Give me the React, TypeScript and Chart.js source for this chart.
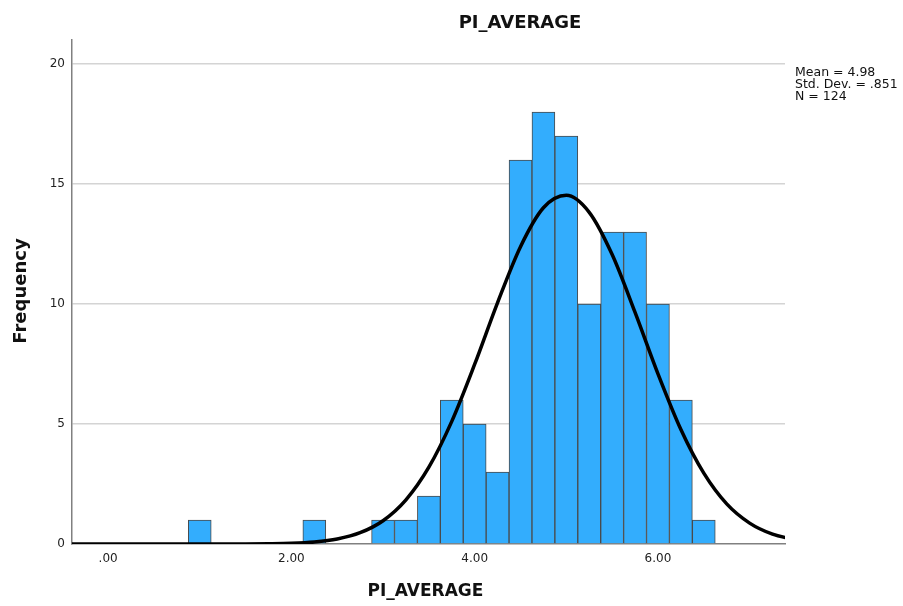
import React, { useEffect, useRef } from "react";
import { Chart, registerables } from "chart.js";

Chart.register(...registerables);

// Histogram bins (bin centers, width 0.25) and frequencies
const binCenters = [1.0, 2.25, 3.0, 3.25, 3.5, 3.75, 4.0, 4.25, 4.5, 4.75, 5.0, 5.25, 5.5, 5.75, 6.0, 6.25, 6.5];
const frequencies = [1, 1, 1, 1, 2, 6, 5, 3, 16, 18, 17, 10, 13, 13, 10, 6, 1];

// Normal curve
const curveX = [-0.5, 0, 0.5, 1.0, 1.5, 1.75, 2.0, 2.25, 2.5, 2.75, 3.0, 3.25, 3.5, 3.75, 4.0, 4.25, 4.5, 4.75, 5.0, 5.25, 5.5, 5.75, 6.0, 6.25, 6.5, 6.75, 7.0, 7.25, 7.5];
const curveY = [0, 0, 0, 0, 0.002, 0.01, 0.03, 0.085, 0.21, 0.47, 0.97, 1.84, 3.2, 5.11, 7.49, 10.06, 12.39, 14.01, 14.53, 13.82, 12.06, 9.65, 7.09, 4.77, 2.95, 1.67, 0.87, 0.41, 0.18];

const xTickValues = [0, 2, 4, 6];
const xTickLabels = [".00", "2.00", "4.00", "6.00"];
const yTickValues = [0, 5, 10, 15, 20];

const statsLines = ["Mean = 4.98", "Std. Dev. = .851", "N = 124"];
const chartTitle = "PI_AVERAGE";
const xTitle = "PI_AVERAGE";
const yTitle = "Frequency";

const FONT = "'DejaVu Sans', 'Lucida Grande', sans-serif";

export default function App() {
  const ref = useRef<HTMLCanvasElement | null>(null);

  useEffect(() => {
    document.body.style.margin = "0";
    const canvas = ref.current;
    if (!canvas) return;

    const textPlugin = {
      id: "textPlugin",
      afterDraw(chart: any) {
        const ctx = chart.ctx;
        const area = chart.chartArea;
        ctx.save();
        ctx.fillStyle = "#111";
        // main title
        ctx.font = `bold 18px ${FONT}`;
        ctx.textAlign = "center";
        ctx.textBaseline = "middle";
        ctx.fillText(chartTitle, 520, 23);
        // x title
        ctx.font = `bold 17px ${FONT}`;
        ctx.fillText(xTitle, (area.left + area.right) / 2 - 3, 592);
        // y title
        ctx.save();
        ctx.translate(21, (area.top + area.bottom) / 2 - 1);
        ctx.rotate(-Math.PI / 2);
        ctx.font = `bold 18px ${FONT}`;
        ctx.fillText(yTitle, 0, 0);
        ctx.restore();
        // stats
        ctx.font = `12.5px ${FONT}`;
        ctx.textAlign = "left";
        ctx.textBaseline = "alphabetic";
        statsLines.forEach((s, i) => ctx.fillText(s, area.right + 10, 76 + i * 12));
        ctx.restore();
      },
    };

    const chart = new Chart(canvas, {
      type: "bar",
      data: {
        datasets: [
          {
            type: "line",
            data: curveX.map((x, i) => ({ x, y: curveY[i] })),
            borderColor: "#000",
            borderWidth: 3.5,
            pointRadius: 0,
            cubicInterpolationMode: "monotone",
            fill: false,
            order: 0,
          } as any,
          {
            type: "bar",
            data: binCenters.map((x, i) => ({ x, y: frequencies[i] })),
            backgroundColor: "#33adfd",
            borderColor: "#4a4a4a",
            borderWidth: 1,
            barPercentage: 1,
            categoryPercentage: 1,
            order: 1,
          } as any,
        ],
      },
      options: {
        responsive: false,
        animation: false,
        devicePixelRatio: 1,
        layout: { padding: { top: 40, right: 118, left: 0, bottom: 0 } },
        plugins: {
          legend: { display: false },
          title: { display: false },
          tooltip: { enabled: false },
        },
        scales: {
          x: {
            type: "linear",
            min: -0.394,
            max: 7.386,
            offset: false,
            afterBuildTicks: (scale: any) => {
              scale.ticks = xTickValues.map((v) => ({ value: v }));
            },
            afterFit: (scale: any) => {
              scale.height = 62;
            },
            ticks: {
              autoSkip: false,
              maxRotation: 0,
              padding: 8,
              color: "#222",
              font: { family: FONT, size: 12 },
              callback: (v: any) => {
                const idx = xTickValues.indexOf(Number(v));
                return idx >= 0 ? xTickLabels[idx] : "";
              },
            },
            grid: { display: false, offset: false, drawTicks: false },
            border: { display: true, color: "#808080", width: 1.5 },
          },
          y: {
            min: 0,
            max: 21,
            afterBuildTicks: (scale: any) => {
              scale.ticks = yTickValues.map((v) => ({ value: v }));
            },
            afterFit: (scale: any) => {
              scale.width = 72;
            },
            ticks: {
              padding: 7,
              color: "#222",
              font: { family: FONT, size: 12 },
              callback: (v: any) => String(v),
            },
            grid: {
              drawTicks: false,
              color: (c: any) => (c.tick && c.tick.value === 0 ? "rgba(0,0,0,0)" : "#d4d4d4"),
              lineWidth: 1.5,
            },
            border: { display: true, color: "#808080", width: 1.5 },
          },
        },
      } as any,
      plugins: [textPlugin],
    });

    return () => chart.destroy();
  }, []);

  return (
    <div style={{ width: 903, height: 606 }}>
      <canvas ref={ref} width={903} height={606} style={{ display: "block" }} />
    </div>
  );
}
